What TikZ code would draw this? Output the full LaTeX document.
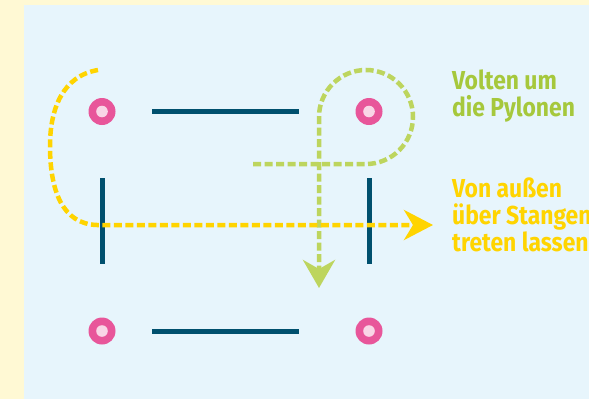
\documentclass[tikz,border=0pt]{standalone}
\usepackage{fontspec}
\setmainfont{Fira Sans}[FakeStretch=0.88]
\usetikzlibrary{arrows.meta}
\definecolor{cream}{HTML}{FFF9D4}
\definecolor{panel}{HTML}{E7F5FC}
\definecolor{bar}{HTML}{00506E}
\definecolor{pylon}{HTML}{E8569A}
\definecolor{pylonin}{HTML}{F9D6E6}
\definecolor{ylw}{HTML}{FFD400}
\definecolor{grn}{HTML}{BDD55E}
\definecolor{grntext}{HTML}{A6C83C}
\tikzset{
  barline/.style={draw=bar, line width=5pt},
  ypath/.style={draw=ylw, line width=4.5pt, dash pattern=on 8pt off 3.5pt},
  gpath/.style={draw=grn, line width=4.5pt, dash pattern=on 8pt off 3.5pt},
  lbl/.style={anchor=base west, inner sep=0pt, font=\bfseries\fontsize{26}{27}\selectfont},
}
\begin{document}
\begin{tikzpicture}[x=1pt,y=-1pt]
\useasboundingbox (0,0) rectangle (589,399);
\clip (0,0) rectangle (589,399);
\fill[cream] (0,0) rectangle (589,399);
\fill[panel] (24,5) rectangle (589,399);
% pylons
\foreach \n/\x/\y in {p1/102/111.5, p2/369/111.5, p3/102/331, p4/369/331}{
  \coordinate (\n) at (\x,\y);
  \fill[pylon] (\n) circle[radius=13.5];
  \fill[pylonin] (\n) circle[radius=5.8];
}
% bars
\coordinate (b1a) at (152,111.5); \coordinate (b1b) at (299,111.5);
\coordinate (b2a) at (152,331);   \coordinate (b2b) at (299,331);
\coordinate (b3a) at (102,178);   \coordinate (b3b) at (102,264);
\coordinate (b4a) at (369,178);   \coordinate (b4b) at (369,264);
\draw[barline] (b1a) -- (b1b);
\draw[barline] (b2a) -- (b2b);
% green path
\coordinate (gs) at (253,164);
\coordinate (gb) at (366,164);
\coordinate (ge) at (319,288);
\draw[gpath, -{Stealth[length=28pt,width=32pt,inset=9pt]}]
  (gs) -- (gb) arc[start angle=90, end angle=-180, radius=47] -- (ge);
% bars vertical
\draw[barline] (b3a) -- (b3b);
\draw[barline] (b4a) -- (b4b);
% yellow path
\coordinate (ys) at (98,70);
\coordinate (yl) at (50,146);
\coordinate (yc) at (97,225);
\coordinate (ye) at (433,225);
\draw[ypath, -{Stealth[length=29pt,width=30pt,inset=9pt]}]
  (ys) .. controls (62,76) and (50,110) .. (yl)
       .. controls (50,190) and (62,224) .. (yc) -- (ye);
% labels
\node[lbl, text=grntext] (t1) at (452,89.5) {Volten um};
\node[lbl, text=grntext] (t2) at (452,116.5) {die Pylonen};
\node[lbl, text=ylw] (t3) at (452,197) {Von außen};
\node[lbl, text=ylw] (t4) at (452,224) {über Stangen};
\node[lbl, text=ylw] (t5) at (452,251) {treten lassen};
\end{tikzpicture}
\end{document}
